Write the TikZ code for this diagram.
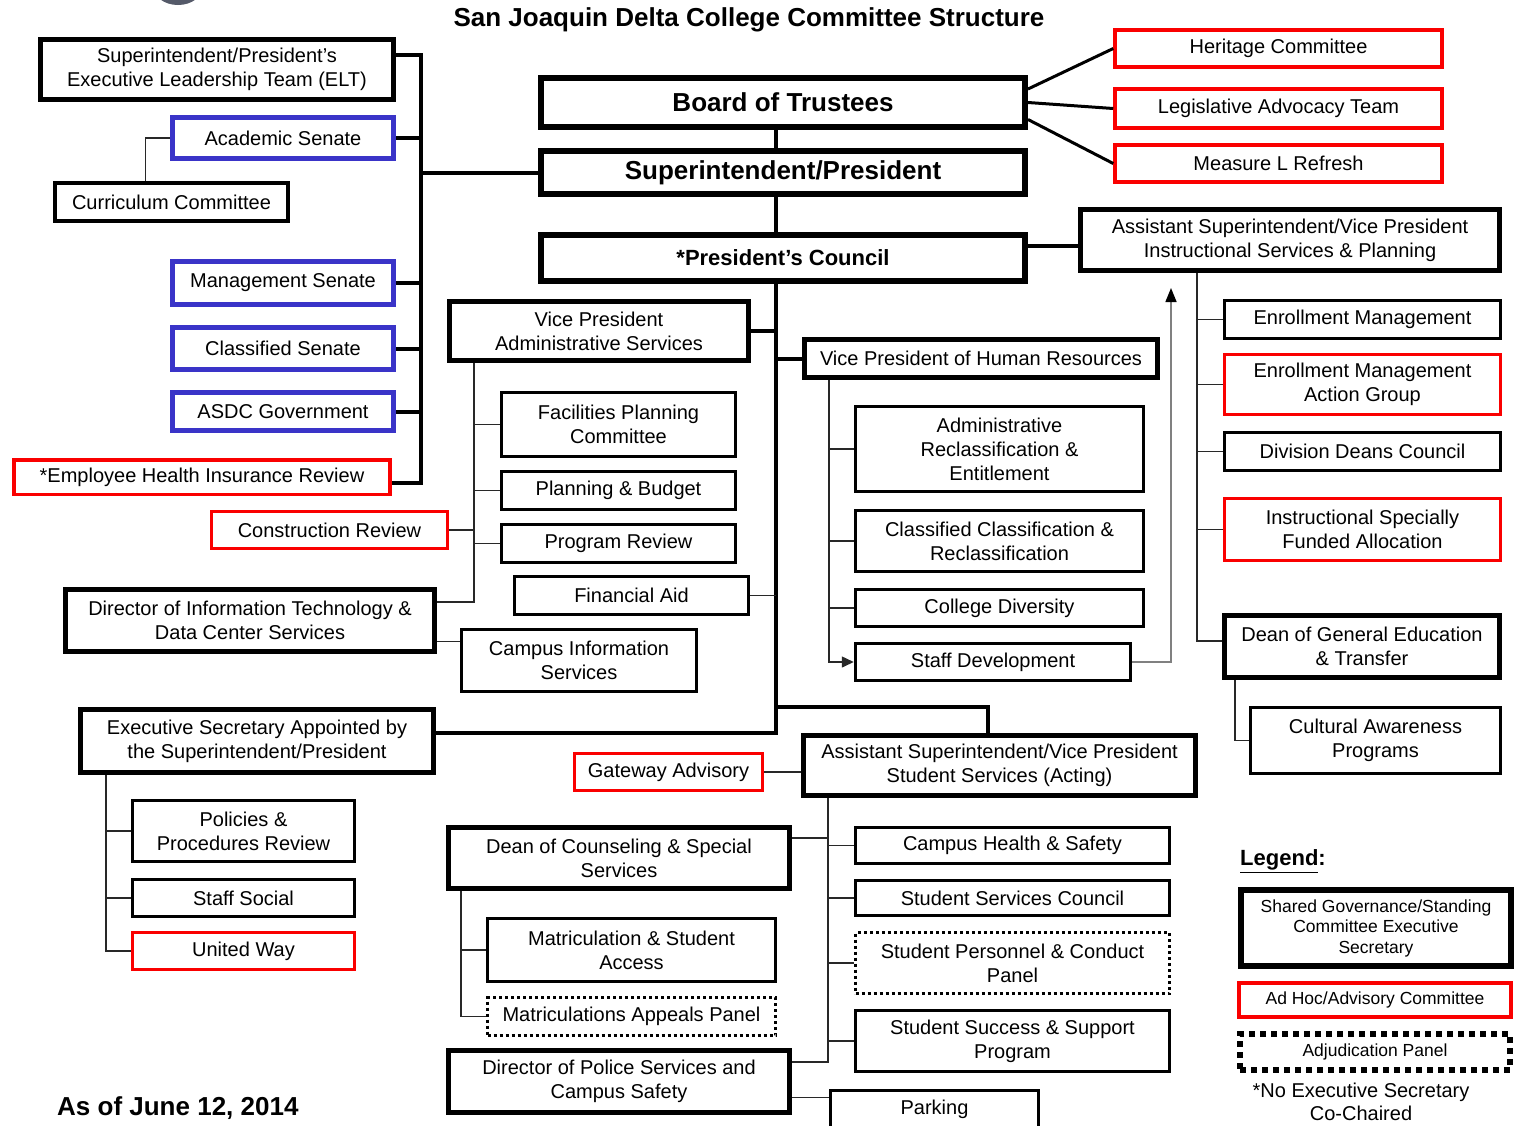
\documentclass[tikz,border=0pt]{standalone}
\usepackage{fontspec}
\setmainfont{Liberation Sans}
\usepackage{tikz}
\usetikzlibrary{arrows.meta}
\definecolor{senateblue}{RGB}{58,52,200}
\definecolor{adhocred}{RGB}{250,0,0}
\definecolor{linkgray}{RGB}{40,40,40}
\definecolor{logogray}{RGB}{85,90,105}
\tikzset{
  orgbox/.style={draw,inner sep=0pt,align=center,font=\fontsize{20}{24}\selectfont},
  exec/.style={orgbox,line width=5pt},
  comm/.style={orgbox,line width=3.5pt},
  senate/.style={orgbox,draw=senateblue,line width=5pt},
  adhoc/.style={orgbox,draw=adhocred,line width=3.5pt},
  panel/.style={orgbox,line width=3pt,dash pattern=on 3pt off 3pt},
  head/.style={orgbox,line width=6pt,font=\fontsize{26}{30}\selectfont\bfseries},
  busline/.style={line width=4pt},
  thinline/.style={line width=1.5pt,draw=linkgray},
}

\begin{document}
\begin{tikzpicture}[x=1pt,y=-1pt]
\useasboundingbox (0,0) rectangle (1515,1125);
\fill[logogray] (178,-14) ellipse [x radius=25, y radius=19];
\node[font=\fontsize{26}{30}\selectfont\bfseries] (title) at (749,20) {San Joaquin Delta College Committee Structure};

\node[head,minimum width=484,minimum height=49] (board) at (783,102.5) {Board of Trustees};
\node[head,minimum width=484,minimum height=43] (sup) at (783,172.5) {Superintendent/President};
\node[head,minimum width=484,minimum height=46,font=\fontsize{22}{26}\selectfont\bfseries] (council) at (783,258) {*President’s Council};

\node[exec,minimum width=353,minimum height=60] (elt) at (217,69.5) {Superintendent/President’s\\Executive Leadership Team (ELT)};
\node[senate,minimum width=221,minimum height=41] (acad) at (283,138) {Academic Senate};
\node[comm,minimum width=233,minimum height=38] (curr) at (171.5,202) {Curriculum Committee};
\node[senate,minimum width=221,minimum height=43] (mgmt) at (283,283) {Management Senate};
\node[senate,minimum width=221,minimum height=42] (classen) at (283,348.5) {Classified Senate};
\node[senate,minimum width=221,minimum height=38] (asdc) at (283,411.5) {ASDC Government};
\node[adhoc,minimum width=376,minimum height=34.5] (ehir) at (202,477) {*Employee Health Insurance Review};

\node[adhoc,minimum width=327,minimum height=37] (heritage) at (1278.5,48.5) {Heritage Committee};
\node[adhoc,minimum width=327,minimum height=39] (legis) at (1278.5,108.5) {Legislative Advocacy Team};
\node[adhoc,minimum width=327,minimum height=37] (measure) at (1278.5,163.5) {Measure L Refresh};

\node[exec,minimum width=419,minimum height=61] (asvpinst) at (1290,240) {Assistant Superintendent/Vice President\\Instructional Services \& Planning};
\node[comm,minimum width=276,minimum height=38] (enroll) at (1362.5,319.5) {Enrollment Management};
\node[adhoc,minimum width=276,minimum height=60] (emag) at (1362.5,384.5) {Enrollment Management\\Action Group};
\node[comm,minimum width=276,minimum height=38] (deans) at (1362.5,451.5) {Division Deans Council};
\node[adhoc,minimum width=276,minimum height=62] (isfa) at (1362.5,529.5) {Instructional Specially\\Funded Allocation};
\node[exec,minimum width=275,minimum height=62] (deange) at (1362,646.5) {Dean of General Education\\\& Transfer};
\node[comm,minimum width=250,minimum height=66] (cultural) at (1375.5,740.5) {Cultural Awareness\\Programs};

\node[exec,minimum width=299,minimum height=59] (vpadmin) at (599,331) {Vice President\\Administrative Services};
\node[comm,minimum width=234,minimum height=64] (facil) at (618.5,424.5) {Facilities Planning\\Committee};
\node[comm,minimum width=234,minimum height=38] (planbud) at (618.5,490.5) {Planning \& Budget};
\node[comm,minimum width=234,minimum height=38] (progrev) at (618.5,543.5) {Program Review};
\node[comm,minimum width=234,minimum height=38] (finaid) at (631.5,595.5) {Financial Aid};
\node[comm,minimum width=235,minimum height=62] (campinfo) at (579,660.5) {Campus Information\\Services};
\node[adhoc,minimum width=236,minimum height=37] (constr) at (329.5,530) {Construction Review};
\node[exec,minimum width=369,minimum height=62] (dirit) at (250,620.5) {Director of Information Technology \&\\Data Center Services};

\node[exec,minimum width=353,minimum height=38] (vphr) at (981,358.5) {Vice President of Human Resources};
\node[comm,minimum width=288,minimum height=85] (adminre) at (999.5,449) {Administrative\\Reclassification \&\\Entitlement};
\node[comm,minimum width=288,minimum height=61] (classre) at (999.5,541) {Classified Classification \&\\Reclassification};
\node[comm,minimum width=288,minimum height=37] (diversity) at (999.5,608) {College Diversity};
\node[comm,minimum width=275,minimum height=37] (staffdev) at (993,662) {Staff Development};

\node[exec,minimum width=353,minimum height=63] (execsec) at (257,741) {Executive Secretary Appointed by\\the Superintendent/President};
\node[comm,minimum width=222,minimum height=61] (policies) at (243.5,831) {Policies \&\\Procedures Review};
\node[comm,minimum width=222,minimum height=37] (staffsoc) at (243.5,898) {Staff Social};
\node[adhoc,minimum width=222,minimum height=37] (unitedway) at (243.5,951) {United Way};

\node[adhoc,minimum width=188,minimum height=37] (gateway) at (668.5,772) {Gateway Advisory};
\node[exec,minimum width=392,minimum height=60] (asvpss) at (999.5,765.5) {Assistant Superintendent/Vice President\\Student Services (Acting)};
\node[exec,minimum width=341,minimum height=61] (counsel) at (619,858) {Dean of Counseling \& Special\\Services};
\node[comm,minimum width=288,minimum height=63] (matric) at (631.5,950) {Matriculation \& Student\\Access};
\node[panel,minimum width=288,minimum height=38] (appeals) at (631.5,1016.5) {Matriculations Appeals Panel};
\node[exec,minimum width=341,minimum height=62] (police) at (619,1081.5) {Director of Police Services and\\Campus Safety};
\node[comm,minimum width=314,minimum height=36] (health) at (1012.5,845.5) {Campus Health \& Safety};
\node[comm,minimum width=314,minimum height=35] (sscouncil) at (1012.5,898) {Student Services Council};
\node[panel,minimum width=314,minimum height=61] (personnel) at (1012.5,963) {Student Personnel \& Conduct\\Panel};
\node[comm,minimum width=314,minimum height=61] (success) at (1012.5,1041) {Student Success \& Support\\Program};
\node[comm,minimum width=208,minimum height=38] (parking) at (934.5,1109.5) {Parking};

\node[anchor=west,inner sep=0pt,font=\fontsize{22}{26}\selectfont\bfseries] (legend) at (1240,861) {\underline{Legend}:};
\node[orgbox,line width=6pt,minimum width=270,minimum height=76,font=\fontsize{17.5}{20.5}\selectfont] (legshared) at (1376,928) {Shared Governance/Standing\\Committee Executive\\Secretary};
\node[adhoc,line width=4pt,minimum width=272,minimum height=34,font=\fontsize{17.5}{20.5}\selectfont] (legadhoc) at (1375,999.5) {Ad Hoc/Advisory Committee};
\node[orgbox,line width=6pt,dash pattern=on 6pt off 5pt,minimum width=270,minimum height=36,font=\fontsize{17.5}{20.5}\selectfont] (legpanel) at (1375,1052) {Adjudication Panel};
\node[align=center,inner sep=0pt,font=\fontsize{20}{23}\selectfont] (note) at (1361,1102) {*No Executive Secretary\\Co-Chaired};
\node[anchor=west,inner sep=0pt,font=\fontsize{26}{30}\selectfont\bfseries] (asof) at (57,1108) {As of June 12, 2014};

\coordinate (ltop) at (421,55);
\coordinate (lbot) at (421,483);
\draw[busline] (elt.east |- ltop) -- (ltop) -- (lbot) -- (ehir.east |- lbot);
\foreach \n in {acad,mgmt,classen,asdc}
  \draw[busline] (\n.east) -- (\n.east -| ltop);
\draw[busline] (sup.west) -- (sup.west -| ltop);
\draw[thinline] (acad.west) -| ([xshift=-26pt]curr.north);

\coordinate (spine) at (776,733);
\coordinate (ssfork) at (776,707);
\draw[busline] (board.south -| spine) -- (sup.north -| spine);
\draw[busline] (sup.south -| spine) -- (council.north -| spine);
\draw[busline] (council.south -| spine) -- (spine) -- (execsec.east |- spine);
\draw[busline] (vpadmin.east) -- (vpadmin.east -| spine);
\draw[busline] (vphr.west) -- (vphr.west -| spine);
\draw[thinline] (finaid.east) -- (finaid.east -| spine);
\draw[busline] (ssfork) -| ([xshift=-12pt]asvpss.north);

\draw[line width=3pt] ([yshift=13.5pt]board.east) -- (heritage.west);
\draw[line width=3pt] (board.east) -- (legis.west);
\draw[line width=3pt] ([yshift=-17pt]board.east) -- (measure.west);
\draw[busline] ([yshift=12pt]council.east) -- ([yshift=12pt]council.east -| asvpinst.west);

\coordinate (ibus) at (1197,641);
\draw[thinline] (asvpinst.south -| ibus) -- (ibus) -- (deange.west |- ibus);
\foreach \n in {enroll,emag,deans,isfa}
  \draw[thinline] (\n.west) -- (\n.west -| ibus);
\draw[thinline] ([xshift=13pt]deange.south west) |- (cultural.west);

\coordinate (hrbus) at (829,662);
\draw[thinline,-{Triangle[length=12pt,width=11pt]}] (vphr.south -| hrbus) |- (staffdev.west);
\foreach \n in {adminre,classre,diversity}
  \draw[thinline] (\n.west) -- (\n.west -| hrbus);
\coordinate (fbtip) at (1171,288);
\draw[line width=1.5pt,gray,-{Triangle[color=black,length=14pt,width=11pt]}] (staffdev.east) -| (fbtip);

\coordinate (abus) at (474,602);
\draw[thinline] (vpadmin.south -| abus) -- (abus) -- (dirit.east |- abus);
\foreach \n in {facil,planbud,progrev}
  \draw[thinline] (\n.west) -- (\n.west -| abus);
\draw[thinline] (constr.east) -- (constr.east -| abus);
\draw[thinline] ([yshift=-21pt]dirit.east) -- ([yshift=-21pt]dirit.east -| campinfo.west);

\coordinate (ebus) at (106,951);
\draw[thinline] (execsec.south -| ebus) |- (unitedway.west);
\foreach \n in {policies,staffsoc}
  \draw[thinline] (\n.west) -- (\n.west -| ebus);

\coordinate (sbus) at (828,1062);
\draw[thinline] (asvpss.south -| sbus) -- (sbus) -- (police.east |- sbus);
\draw[thinline] ([yshift=20pt]counsel.east) -- ([yshift=20pt]counsel.east -| sbus);
\foreach \n in {health,sscouncil,personnel,success}
  \draw[thinline] (\n.west) -- (\n.west -| sbus);
\draw[thinline] (gateway.east) -- (gateway.east -| asvpss.west);
\draw[thinline] ([yshift=-16pt]police.east) -- ([yshift=-16pt]police.east -| parking.west);

\coordinate (cbus) at (461,1016.5);
\draw[thinline] (counsel.south -| cbus) |- (appeals.west);
\draw[thinline] (matric.west) -- (matric.west -| cbus);
\end{tikzpicture}
\end{document}
